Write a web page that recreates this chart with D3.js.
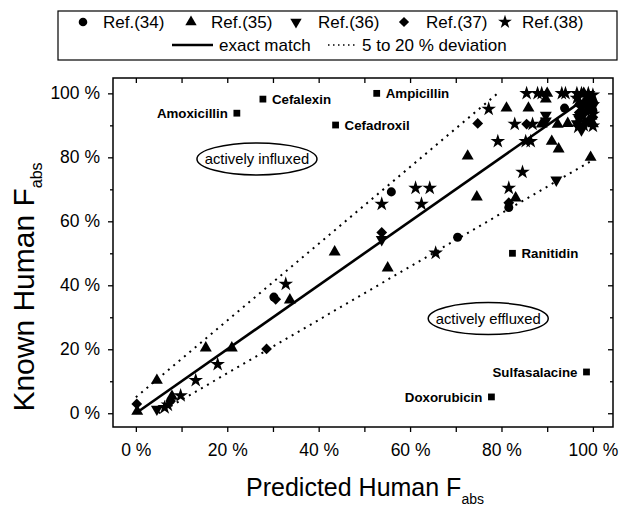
<!DOCTYPE html>
<html>
<head>
<meta charset="utf-8">
<script src="https://cdn.jsdelivr.net/npm/d3@7"></script>
<style>
  html, body { margin: 0; padding: 0; background: #fff; }
  svg { display: block; font-family: "Liberation Sans", Arial, sans-serif; }
</style>
</head>
<body>
<svg id="chart" width="625" height="506"></svg>
<script>
// ---------------- data ----------------
const seriesNames = ["Ref.(34)", "Ref.(35)", "Ref.(36)", "Ref.(37)", "Ref.(38)"];

const ref34 = [[30.2,36.3],[55.9,69.2],[70.4,55.0],[81.6,64.3],[93.8,95.4],[99.0,99.0],[98.0,96.5],[100.0,94.5]];
const ref35 = [[0.3,0.6],[4.6,10.3],[7.9,5.3],[15.3,20.4],[21.0,20.4],[33.7,35.4],[43.5,50.4],[55.1,45.4],
               [72.6,80.4],[74.6,67.6],[83.1,67.3],[81.1,95.4],[85.9,95.4],[89.7,98.2],[90.0,100.0],[88.8,90.4],
               [91.0,85.0],[92.3,90.3],[94.5,90.6],[92.5,82.6],[99.5,80.0],[98.0,100.0],[100.0,98.0],[97.0,97.0],
               [99.0,95.0],[100.0,90.5]];
const ref36 = [[4.6,1.3],[53.8,54.3],[89.7,93.2],[89.7,91.4],[97.0,92.0],[97.5,88.6],[92.0,72.9],[100.0,96.0],
               [98.0,93.5],[96.5,90.5]];
const ref37 = [[0.2,2.9],[7.6,3.8],[28.6,20.1],[30.6,35.6],[53.8,56.5],[74.8,90.6],[85.5,90.4],[81.6,65.8],
               [99.0,97.5],[97.0,94.0],[100.0,92.5],[98.5,91.0]];
const ref38 = [[6.3,1.8],[7.0,2.6],[9.8,5.5],[13.1,10.3],[17.9,15.3],[32.8,40.4],[53.8,65.4],[61.2,70.4],[64.3,70.4],
               [62.5,65.4],[65.6,50.1],[77.2,95.1],[79.2,85.0],[82.9,90.4],[86.8,90.4],[81.6,70.4],[84.6,75.4],
               [85.3,85.0],[86.4,85.0],[85.5,100.0],[87.9,100.0],[88.8,100.0],[93.2,100.0],[94.0,100.0],
               [96.5,100.0],[97.5,100.0],[99.0,100.0],[100.0,99.5],[96.5,98.5],[99.0,98.0],[100.0,96.5],
               [97.5,95.5],[98.5,94.5],[100.0,93.5],[97.0,92.8],[99.0,91.5],[98.0,90.0],[100.0,89.8],[96.8,89.5]];

const outlierNames = ["Amoxicillin","Cefalexin","Cefadroxil","Ampicillin","Ranitidin","Sulfasalacine","Doxorubicin"];
const outlierX     = [22.1, 27.8, 43.7, 52.7, 82.4, 98.6, 77.8];
const outlierY     = [93.8, 98.2, 90.1, 100.0, 50.0, 12.9, 5.1];
const labelsLeft   = ["Amoxicillin","Sulfasalacine","Doxorubicin"];

const regionLabels = ["actively influxed", "actively effluxed"];
const regionX = [26.5, 77.1];
const regionY = [79.5, 29.6];

const majorTicks = [0, 20, 40, 60, 80, 100];
const minorTicks = [10, 30, 50, 70, 90];

// exact match and 5-20 % deviation lines (endpoints in data units)
const exactLine = [[0,0],[100,100]];
const upperDev  = [[0,5],[79.17,100]];
const lowerDev  = [[5,0],[100,79.17]];

// ---------------- layout ----------------
const svg = d3.select("#chart");
const L = 113, R = 613, T = 78, B = 427;
const x = d3.scaleLinear().domain([-5, 104.4]).range([L, R]);
const y = d3.scaleLinear().domain([-4.3, 104.8]).range([B, T]);

svg.append("rect").attr("width", 625).attr("height", 506).attr("fill", "#fff");

// axes
const fmt = d => d + " %";
svg.append("g").attr("transform", `translate(0,${B})`)
  .call(d3.axisBottom(x).tickValues(majorTicks).tickSize(5).tickPadding(12).tickFormat(fmt));
svg.append("g").attr("transform", `translate(0,${B})`)
  .call(d3.axisBottom(x).tickValues(minorTicks).tickSize(5).tickFormat(""));
svg.append("g").attr("transform", `translate(0,${T})`)
  .call(d3.axisTop(x).tickValues(majorTicks.concat(minorTicks)).tickSize(-5).tickFormat(""));
svg.append("g").attr("transform", `translate(${L},0)`)
  .call(d3.axisLeft(y).tickValues(majorTicks).tickSize(5).tickPadding(8).tickFormat(fmt));
svg.append("g").attr("transform", `translate(${L},0)`)
  .call(d3.axisLeft(y).tickValues(minorTicks).tickSize(3).tickFormat(""));
svg.append("g").attr("transform", `translate(${R},0)`)
  .call(d3.axisRight(y).tickValues(majorTicks).tickSize(-5).tickFormat(""));
svg.append("g").attr("transform", `translate(${R},0)`)
  .call(d3.axisRight(y).tickValues(minorTicks).tickSize(-3).tickFormat(""));

svg.selectAll(".domain").remove();
svg.selectAll(".tick line").attr("stroke", "#000").attr("stroke-width", 1.3);
svg.selectAll(".tick text").attr("font-size", 17.5).attr("fill", "#000")
   .attr("font-family", "Liberation Sans, Arial, sans-serif");

// frame
svg.append("rect").attr("x", L).attr("y", T).attr("width", R - L).attr("height", B - T)
  .attr("fill", "none").attr("stroke", "#000").attr("stroke-width", 1.5);

// axis titles
const xt = svg.append("text").attr("x", 365).attr("y", 496).attr("text-anchor", "middle")
  .attr("font-size", 25).attr("fill", "#000");
xt.append("tspan").text("Predicted Human F");
xt.append("tspan").attr("font-size", 14).attr("dy", 8).text("abs");

const yt = svg.append("text").attr("transform", "translate(34,287) rotate(-90)")
  .attr("text-anchor", "middle").attr("font-size", 30).attr("fill", "#000");
yt.append("tspan").text("Known Human F");
yt.append("tspan").attr("font-size", 16).attr("dy", 8).text("abs");

// lines
const line = d3.line().x(d => x(d[0])).y(d => y(d[1]));
const dev = svg.append("g").attr("fill", "none").attr("stroke", "#000")
  .attr("stroke-width", 2).attr("stroke-dasharray", "2,5");
dev.append("path").attr("d", line(upperDev));
dev.append("path").attr("d", line(lowerDev));
svg.append("path").attr("d", line(exactLine)).attr("fill", "none")
  .attr("stroke", "#000").attr("stroke-width", 2.6);

// symbols
const shapes = [
  {type: d3.symbolCircle,   size: 64, rot: 0},
  {type: d3.symbolTriangle, size: 62, rot: 0},
  {type: d3.symbolTriangle, size: 62, rot: 180},
  {type: d3.symbolSquare,   size: 58, rot: 45},
  {type: d3.symbolStar,     size: 66, rot: 0}
];
const allSeries = [ref34, ref35, ref36, ref37, ref38];
allSeries.forEach((data, i) => {
  const s = shapes[i];
  const path = d3.symbol().type(s.type).size(s.size)();
  svg.append("g").selectAll("path").data(data).join("path")
    .attr("d", path).attr("fill", "#000")
    .attr("transform", d => `translate(${x(d[0])},${y(d[1])}) rotate(${s.rot})`);
});

// labeled outliers (squares)
const sq = d3.symbol().type(d3.symbolSquare).size(46)();
outlierNames.forEach((name, i) => {
  const px = x(outlierX[i]), py = y(outlierY[i]);
  svg.append("path").attr("d", sq).attr("fill", "#000").attr("transform", `translate(${px},${py})`);
  const left = labelsLeft.includes(name);
  svg.append("text").attr("x", left ? px - 9 : px + 9).attr("y", py).attr("dy", "0.36em")
    .attr("text-anchor", left ? "end" : "start").attr("font-size", 13.3).attr("font-weight", "bold")
    .attr("fill", "#000").text(name);
});

// region annotations
regionLabels.forEach((t, i) => {
  const cx = x(regionX[i]), cy = y(regionY[i]);
  svg.append("ellipse").attr("cx", cx).attr("cy", cy).attr("rx", 60).attr("ry", 16)
    .attr("fill", "none").attr("stroke", "#000").attr("stroke-width", 1.5);
  svg.append("text").attr("x", cx).attr("y", cy).attr("dy", "0.36em").attr("text-anchor", "middle")
    .attr("font-size", 14.8).attr("fill", "#000").text(t);
});

// legend
svg.append("rect").attr("x", 58).attr("y", 11).attr("width", 559).attr("height", 49)
  .attr("fill", "#fff").attr("stroke", "#000").attr("stroke-width", 1.2);
const legX = [83, 191, 296, 404, 505];
const legTextX = [103, 211, 318, 426, 522];
seriesNames.forEach((n, i) => {
  const s = shapes[i];
  svg.append("path").attr("d", d3.symbol().type(s.type).size(s.size * 0.9)())
    .attr("fill", "#000").attr("transform", `translate(${legX[i]},22) rotate(${s.rot})`);
  svg.append("text").attr("x", legTextX[i]).attr("y", 22).attr("dy", "0.36em")
    .attr("font-size", 17).attr("fill", "#000").text(n);
});
svg.append("line").attr("x1", 172).attr("x2", 213).attr("y1", 45).attr("y2", 45)
  .attr("stroke", "#000").attr("stroke-width", 2.6);
svg.append("text").attr("x", 219).attr("y", 45).attr("dy", "0.36em").attr("font-size", 17)
  .attr("fill", "#000").text("exact match");
svg.append("line").attr("x1", 328).attr("x2", 356).attr("y1", 45).attr("y2", 45)
  .attr("stroke", "#000").attr("stroke-width", 1.5).attr("stroke-dasharray", "1.5,3.5");
svg.append("text").attr("x", 362).attr("y", 45).attr("dy", "0.36em").attr("font-size", 17)
  .attr("fill", "#000").text("5 to 20 % deviation");
</script>
</body>
</html>
